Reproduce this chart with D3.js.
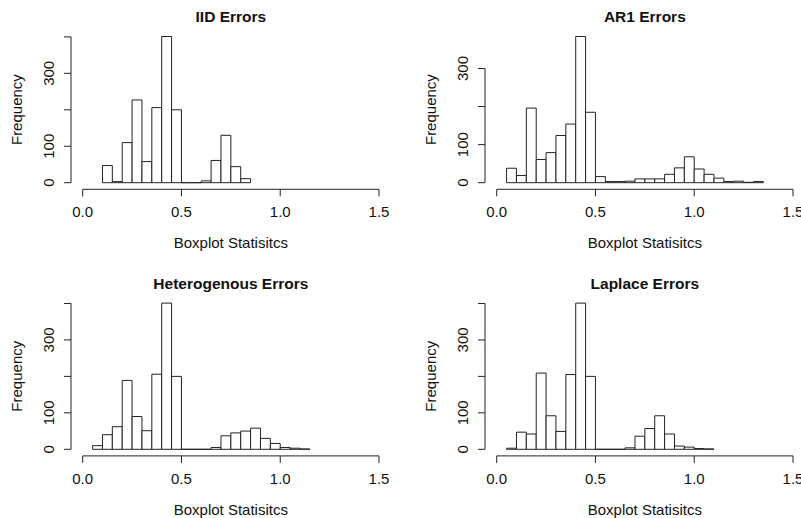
<!DOCTYPE html>
<html>
<head>
<meta charset="utf-8">
<script src="https://cdn.jsdelivr.net/npm/d3@7"></script>
<style>
  body { margin: 0; background: #fff; }
  svg { display: block; font-family: "Liberation Sans", Arial, sans-serif; }
  .bar { fill: #fff; stroke: #222; stroke-width: 1; }
  .axis-line { stroke: #222; stroke-width: 1; fill: none; }
</style>
</head>
<body>
<div id="chart"></div>
<script>
var totalWidth = 801,
  totalHeight = 518;

// histogram data: bin width 0.05, first bin start and counts per panel
var binWidth = 0.05;
var panelTitles = ["IID Errors", "AR1 Errors", "Heterogenous Errors", "Laplace Errors"];
var binStarts = [0.10, 0.05, 0.05, 0.05];

var iidCounts = [47, 3, 110, 227, 58, 206, 401, 200, 0, 0, 5, 61, 130, 44, 11];
var ar1Counts = [38, 19, 196, 61, 79, 124, 154, 384, 185, 16, 3, 3, 4, 10, 10, 10, 22, 39, 68, 36, 22, 12, 3, 4, 1, 3];
var hetCounts = [10, 40, 62, 189, 90, 51, 206, 401, 200, 0, 0, 0, 5, 37, 45, 50, 58, 30, 16, 5, 3, 1];
var lapCounts = [3, 47, 42, 209, 92, 49, 205, 401, 200, 0, 0, 0, 4, 36, 57, 92, 42, 9, 6, 2, 1];

var xTicks = [0, 0.5, 1.0, 1.5];
var yLabelTicks = [0, 100, 300];
var xLabel = "Boxplot Statisitcs";
var yLabel = "Frequency";

var allCounts = [iidCounts, ar1Counts, hetCounts, lapCounts];

// panel geometry (relative to each panel's origin)
var plot = { left: 82.7, right: 379, base: 182.7, top: 36.5 };
var colOffset = 414,
  rowOffset = 266.6;

var svg = d3
  .select("#chart")
  .append("svg")
  .attr("width", totalWidth)
  .attr("height", totalHeight);

allCounts.forEach(function (counts, i) {
  var col = i % 2,
    row = Math.floor(i / 2);
  var g = svg
    .append("g")
    .attr("transform", "translate(" + col * colOffset + "," + row * rowOffset + ")");

  var bins = counts.map(function (c, j) {
    var x0 = binStarts[i] + j * binWidth;
    return { x0: x0, x1: x0 + binWidth, count: c };
  });

  var x = d3.scaleLinear().domain([0, 1.5]).range([plot.left, plot.right]);
  var y = d3
    .scaleLinear()
    .domain([0, d3.max(counts)])
    .range([plot.base, plot.top]);

  // bars (paths so that empty bins still show as a line on the baseline)
  g.selectAll(".bar")
    .data(bins)
    .enter()
    .append("path")
    .attr("class", "bar")
    .attr("d", function (d) {
      var xa = x(d.x0),
        xb = x(d.x1),
        y0 = y(0),
        y1 = y(d.count);
      return "M" + xa + "," + y0 + "V" + y1 + "H" + xb + "V" + y0 + "Z";
    });

  // x axis
  var xAxisY = 189.3;
  g.append("line")
    .attr("class", "axis-line")
    .attr("x1", x(0))
    .attr("x2", x(1.5))
    .attr("y1", xAxisY)
    .attr("y2", xAxisY);
  xTicks.forEach(function (t) {
    g.append("line")
      .attr("class", "axis-line")
      .attr("x1", x(t))
      .attr("x2", x(t))
      .attr("y1", xAxisY)
      .attr("y2", xAxisY + 7);
    g.append("text")
      .attr("x", x(t))
      .attr("y", 217.3)
      .attr("text-anchor", "middle")
      .style("font-size", "15px")
      .style("fill", "#111")
      .text(d3.format(".1f")(t));
  });

  // y axis
  var yAxisX = 71;
  var yTicks = d3.range(0, d3.max(counts) + 1, 100);
  g.append("line")
    .attr("class", "axis-line")
    .attr("x1", yAxisX)
    .attr("x2", yAxisX)
    .attr("y1", y(0))
    .attr("y2", y(yTicks[yTicks.length - 1]));
  yTicks.forEach(function (t) {
    g.append("line")
      .attr("class", "axis-line")
      .attr("x1", yAxisX - 7)
      .attr("x2", yAxisX)
      .attr("y1", y(t))
      .attr("y2", y(t));
  });
  yLabelTicks.forEach(function (t) {
    g.append("text")
      .attr("transform", "translate(53.5," + y(t) + ") rotate(-90)")
      .attr("text-anchor", "middle")
      .style("font-size", "15px")
      .style("fill", "#111")
      .text(t);
  });

  var midX = x(0.75),
    midY = (plot.top + plot.base) / 2;

  // title and axis labels
  g.append("text")
    .attr("x", midX)
    .attr("y", 22)
    .attr("text-anchor", "middle")
    .style("font-size", "15.5px")
    .style("font-weight", "bold")
    .style("fill", "#111")
    .text(panelTitles[i]);

  g.append("text")
    .attr("x", midX)
    .attr("y", 248)
    .attr("text-anchor", "middle")
    .style("font-size", "15px")
    .style("fill", "#111")
    .text(xLabel);

  g.append("text")
    .attr("transform", "translate(21.5," + midY + ") rotate(-90)")
    .attr("text-anchor", "middle")
    .style("font-size", "15px")
    .style("fill", "#111")
    .text(yLabel);
});
</script>
</body>
</html>
